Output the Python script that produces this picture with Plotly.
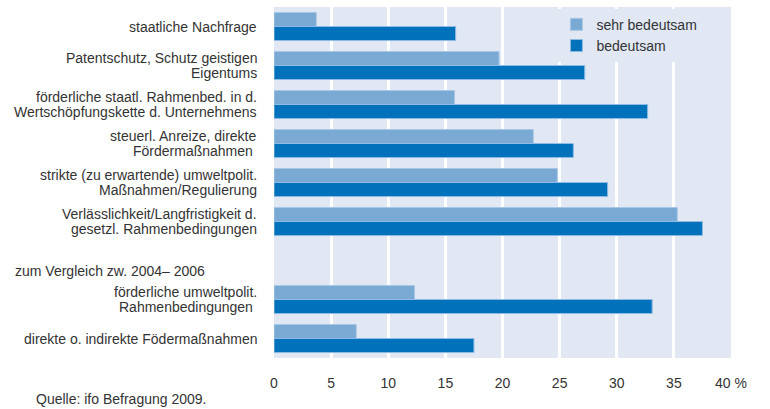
import plotly.graph_objects as go

categories = [
    "staatliche Nachfrage",
    "Patentschutz, Schutz geistigen<br>Eigentums",
    "förderliche staatl. Rahmenbed. in d.<br>Wertschöpfungskette d. Unternehmens",
    "steuerl. Anreize, direkte<br>Fördermaßnahmen ",
    "strikte (zu erwartende) umweltpolit.<br>Maßnahmen/Regulierung",
    "Verlässlichkeit/Langfristigkeit d.<br>gesetzl. Rahmenbedingungen",
    " ",
    "förderliche umweltpolit.<br>Rahmenbedingungen ",
    "direkte o. indirekte Födermaßnahmen",
]
sehr_bedeutsam = [3.7, 19.7, 15.8, 22.7, 24.8, 35.3, None, 12.3, 7.2]
bedeutsam = [15.9, 27.2, 32.7, 26.2, 29.2, 37.5, None, 33.1, 17.5]

x_ticks = [0, 5, 10, 15, 20, 25, 30, 35, 40]
x_ticktext = ["0", "5", "10", "15", "20", "25", "30", "35", "40 %"]

TEXT = '#333333'
BG = '#e1e8f4'

fig = go.Figure()
fig.add_trace(go.Bar(
    y=categories, x=sehr_bedeutsam, orientation='h', name='sehr bedeutsam',
    marker=dict(color='#7aaad4', line=dict(color='#a8c7e6', width=1))
))
fig.add_trace(go.Bar(
    y=categories, x=bedeutsam, orientation='h', name='bedeutsam',
    marker=dict(color='#0072bc', line=dict(color='#8fbbe4', width=1))
))

# category labels drawn line by line for tighter line spacing
for cat in categories:
    lines = cat.split("<br>")
    n = len(lines)
    for i, line in enumerate(lines):
        if not line.strip():
            continue
        fig.add_annotation(
            text=line, xref='paper', yref='y', x=-0.033, y=cat,
            xanchor='right', yanchor='middle', showarrow=False,
            yshift=(n - 1) * 7.25 - i * 14.5,
            font=dict(size=14, color=TEXT)
        )

fig.add_annotation(
    text="zum Vergleich zw. 2004– 2006", xref='paper', yref='y',
    x=-0.571, y=" ", xanchor='left', yanchor='middle', yshift=-10,
    showarrow=False, font=dict(size=14, color=TEXT)
)
fig.add_annotation(
    text="Quelle: ifo Befragung 2009.", xref='paper', yref='paper',
    x=-0.525, y=-0.117, xanchor='left', yanchor='middle',
    showarrow=False, font=dict(size=14, color=TEXT)
)

fig.update_layout(
    width=770, height=409,
    margin=dict(l=274, r=39, t=7, b=51),
    paper_bgcolor='white',
    plot_bgcolor=BG,
    font=dict(family='Liberation Sans, Arial, sans-serif', size=14, color=TEXT),
    barmode='group', bargap=0.28, bargroupgap=0,
    showlegend=True,
    legend=dict(
        x=0.618, y=0.995, xanchor='left', yanchor='top',
        bgcolor=BG, traceorder='normal',
        font=dict(size=14, color=TEXT),
        itemwidth=30, tracegroupgap=0
    ),
    xaxis=dict(
        range=[0, 40], tickvals=x_ticks, ticktext=x_ticktext,
        showgrid=True, gridcolor='white', gridwidth=3,
        zeroline=False, showline=False,
        ticks='outside', ticklen=12, tickcolor='rgba(0,0,0,0)',
        tickfont=dict(size=14, color=TEXT)
    ),
    yaxis=dict(
        categoryorder='array', categoryarray=categories,
        autorange='reversed', showgrid=False, zeroline=False,
        showticklabels=False
    ),
)

fig.write_html(
    "out.html",
    config={'displayModeBar': False},
    post_script="document.body.style.margin='0';"
)
